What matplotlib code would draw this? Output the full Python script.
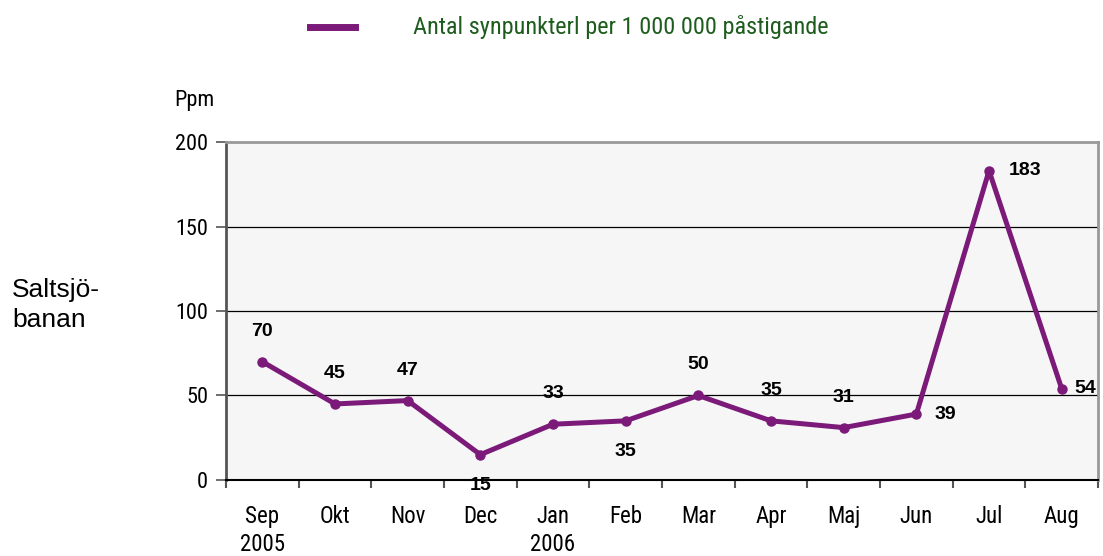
import matplotlib
matplotlib.use('Agg')
import matplotlib.pyplot as plt
from matplotlib.ticker import FixedLocator
from matplotlib import font_manager

months = ['Sep\n2005', 'Okt', 'Nov', 'Dec', 'Jan\n2006', 'Feb', 'Mar',
          'Apr', 'Maj', 'Jun', 'Jul', 'Aug']
ppm = [70, 45, 47, 15, 33, 35, 50, 35, 31, 39, 183, 54]
series_name = 'Antal synpunkterl per 1 000 000 påstigande'

names = {f.name for f in font_manager.fontManager.ttflist}
narrow = 'Liberation Sans'
for cand in ['Liberation Sans Narrow', 'Arial Narrow', 'Roboto Condensed']:
    if cand in names:
        narrow = cand
        break

purple = '#7b1a78'
green = '#1e5c1e'

fig = plt.figure(figsize=(11.03, 5.56), dpi=100)
ax = fig.add_axes([0.2049, 0.1367, 0.7906, 0.6079])
ax.set_facecolor('#f6f6f6')

x = list(range(len(months)))
ax.plot(x, ppm, color=purple, lw=3.6, marker='o', ms=6.5, zorder=3)

ax.set_xlim(-0.5, len(months) - 0.5)
ax.set_ylim(0, 200)
ax.set_yticks([0, 50, 100, 150, 200])
for y in [50, 100, 150]:
    ax.axhline(y, color='black', lw=0.9, zorder=1)

ax.set_xticks(x)
ax.set_xticklabels(months, fontfamily=narrow, fontsize=16.5, linespacing=1.3)
ax.xaxis.set_minor_locator(FixedLocator([i - 0.5 for i in range(len(months) + 1)]))
ax.tick_params(axis='x', which='major', length=0, pad=18)
ax.tick_params(axis='x', which='minor', length=6, width=1.5, color='#555555')
ax.tick_params(axis='y', length=7, width=1.2, color='#555555', pad=6)
for lab in ax.get_yticklabels():
    lab.set_fontfamily(narrow)
    lab.set_fontsize(16)

ax.spines['left'].set_color('#555555')
ax.spines['left'].set_linewidth(2)
ax.spines['bottom'].set_color('black')
ax.spines['bottom'].set_linewidth(1.5)
ax.spines['top'].set_color('#999999')
ax.spines['top'].set_linewidth(2)
ax.spines['right'].set_color('#999999')
ax.spines['right'].set_linewidth(2)

# label placement (offset in points)
offsets = [(0, 22), (0, 22), (0, 22), (0, -22), (0, 22), (0, -22), (0, 22),
           (0, 22), (0, 22), (21, 0), (26, 0), (17, 0)]
for xi, v, off in zip(x, ppm, offsets):
    ax.annotate(str(v), (xi, v), xytext=off, textcoords='offset points',
                ha='center', va='center', fontsize=14, fontweight='bold',
                fontfamily='Liberation Sans', color='black', zorder=4)

fig.text(0.158, 0.82, 'Ppm', fontfamily=narrow, fontsize=16, ha='left', va='center')
fig.text(0.011, 0.452, 'Saltsjö-\nbanan', fontfamily='Liberation Sans', fontsize=19,
         ha='left', va='center', linespacing=1.3)

fig.lines.append(plt.Line2D([0.281, 0.322], [0.951, 0.951], color=purple, lw=5,
                            transform=fig.transFigure))
fig.text(0.374, 0.951, series_name, fontfamily=narrow, fontsize=17.5, color=green,
         ha='left', va='center')

fig.savefig('out.png', dpi=100)
